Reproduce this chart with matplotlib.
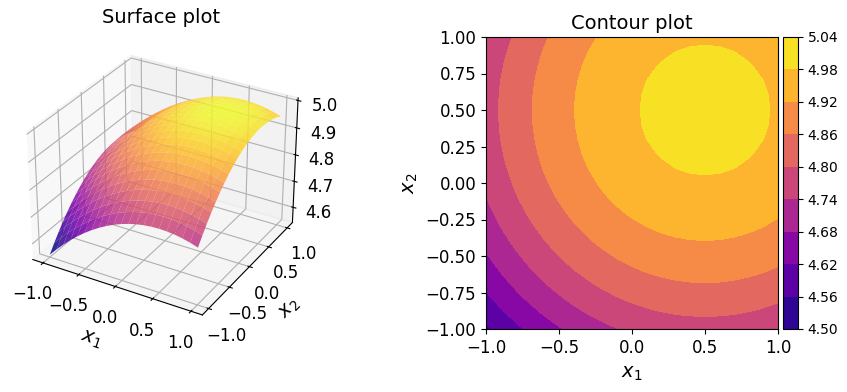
import numpy as np
import matplotlib
matplotlib.use('Agg')
import matplotlib.pyplot as plt

x1_values = [-1.0, -0.9, -0.8, -0.7, -0.6, -0.5, -0.4, -0.3, -0.2, -0.1, 0.0,
             0.1, 0.2, 0.3, 0.4, 0.5, 0.6, 0.7, 0.8, 0.9, 1.0]
x2_values = [-1.0, -0.9, -0.8, -0.7, -0.6, -0.5, -0.4, -0.3, -0.2, -0.1, 0.0,
             0.1, 0.2, 0.3, 0.4, 0.5, 0.6, 0.7, 0.8, 0.9, 1.0]

# estimated from the contour bands, one row per x2
z_values = [
    [4.550, 4.579, 4.606, 4.631, 4.654, 4.675, 4.694, 4.711, 4.726, 4.739, 4.750, 4.759, 4.766, 4.771, 4.774, 4.775, 4.774, 4.771, 4.766, 4.759, 4.750],
    [4.579, 4.608, 4.635, 4.660, 4.683, 4.704, 4.723, 4.740, 4.755, 4.768, 4.779, 4.788, 4.795, 4.800, 4.803, 4.804, 4.803, 4.800, 4.795, 4.788, 4.779],
    [4.606, 4.635, 4.662, 4.687, 4.710, 4.731, 4.750, 4.767, 4.782, 4.795, 4.806, 4.815, 4.822, 4.827, 4.830, 4.831, 4.830, 4.827, 4.822, 4.815, 4.806],
    [4.631, 4.660, 4.687, 4.712, 4.735, 4.756, 4.775, 4.792, 4.807, 4.820, 4.831, 4.840, 4.847, 4.852, 4.855, 4.856, 4.855, 4.852, 4.847, 4.840, 4.831],
    [4.654, 4.683, 4.710, 4.735, 4.758, 4.779, 4.798, 4.815, 4.830, 4.843, 4.854, 4.863, 4.870, 4.875, 4.878, 4.879, 4.878, 4.875, 4.870, 4.863, 4.854],
    [4.675, 4.704, 4.731, 4.756, 4.779, 4.800, 4.819, 4.836, 4.851, 4.864, 4.875, 4.884, 4.891, 4.896, 4.899, 4.900, 4.899, 4.896, 4.891, 4.884, 4.875],
    [4.694, 4.723, 4.750, 4.775, 4.798, 4.819, 4.838, 4.855, 4.870, 4.883, 4.894, 4.903, 4.910, 4.915, 4.918, 4.919, 4.918, 4.915, 4.910, 4.903, 4.894],
    [4.711, 4.740, 4.767, 4.792, 4.815, 4.836, 4.855, 4.872, 4.887, 4.900, 4.911, 4.920, 4.927, 4.932, 4.935, 4.936, 4.935, 4.932, 4.927, 4.920, 4.911],
    [4.726, 4.755, 4.782, 4.807, 4.830, 4.851, 4.870, 4.887, 4.902, 4.915, 4.926, 4.935, 4.942, 4.947, 4.950, 4.951, 4.950, 4.947, 4.942, 4.935, 4.926],
    [4.739, 4.768, 4.795, 4.820, 4.843, 4.864, 4.883, 4.900, 4.915, 4.928, 4.939, 4.948, 4.955, 4.960, 4.963, 4.964, 4.963, 4.960, 4.955, 4.948, 4.939],
    [4.750, 4.779, 4.806, 4.831, 4.854, 4.875, 4.894, 4.911, 4.926, 4.939, 4.950, 4.959, 4.966, 4.971, 4.974, 4.975, 4.974, 4.971, 4.966, 4.959, 4.950],
    [4.759, 4.788, 4.815, 4.840, 4.863, 4.884, 4.903, 4.920, 4.935, 4.948, 4.959, 4.968, 4.975, 4.980, 4.983, 4.984, 4.983, 4.980, 4.975, 4.968, 4.959],
    [4.766, 4.795, 4.822, 4.847, 4.870, 4.891, 4.910, 4.927, 4.942, 4.955, 4.966, 4.975, 4.982, 4.987, 4.990, 4.991, 4.990, 4.987, 4.982, 4.975, 4.966],
    [4.771, 4.800, 4.827, 4.852, 4.875, 4.896, 4.915, 4.932, 4.947, 4.960, 4.971, 4.980, 4.987, 4.992, 4.995, 4.996, 4.995, 4.992, 4.987, 4.980, 4.971],
    [4.774, 4.803, 4.830, 4.855, 4.878, 4.899, 4.918, 4.935, 4.950, 4.963, 4.974, 4.983, 4.990, 4.995, 4.998, 4.999, 4.998, 4.995, 4.990, 4.983, 4.974],
    [4.775, 4.804, 4.831, 4.856, 4.879, 4.900, 4.919, 4.936, 4.951, 4.964, 4.975, 4.984, 4.991, 4.996, 4.999, 5.000, 4.999, 4.996, 4.991, 4.984, 4.975],
    [4.774, 4.803, 4.830, 4.855, 4.878, 4.899, 4.918, 4.935, 4.950, 4.963, 4.974, 4.983, 4.990, 4.995, 4.998, 4.999, 4.998, 4.995, 4.990, 4.983, 4.974],
    [4.771, 4.800, 4.827, 4.852, 4.875, 4.896, 4.915, 4.932, 4.947, 4.960, 4.971, 4.980, 4.987, 4.992, 4.995, 4.996, 4.995, 4.992, 4.987, 4.980, 4.971],
    [4.766, 4.795, 4.822, 4.847, 4.870, 4.891, 4.910, 4.927, 4.942, 4.955, 4.966, 4.975, 4.982, 4.987, 4.990, 4.991, 4.990, 4.987, 4.982, 4.975, 4.966],
    [4.759, 4.788, 4.815, 4.840, 4.863, 4.884, 4.903, 4.920, 4.935, 4.948, 4.959, 4.968, 4.975, 4.980, 4.983, 4.984, 4.983, 4.980, 4.975, 4.968, 4.959],
    [4.750, 4.779, 4.806, 4.831, 4.854, 4.875, 4.894, 4.911, 4.926, 4.939, 4.950, 4.959, 4.966, 4.971, 4.974, 4.975, 4.974, 4.971, 4.966, 4.959, 4.950],
]

contour_levels = [4.50, 4.56, 4.62, 4.68, 4.74, 4.80, 4.86, 4.92, 4.98, 5.04]
z_ticks = [4.6, 4.7, 4.8, 4.9, 5.0]
xy_ticks = [-1.0, -0.5, 0.0, 0.5, 1.0]
contour_ticks = [-1.0, -0.75, -0.5, -0.25, 0.0, 0.25, 0.5, 0.75, 1.0]

X1, X2 = np.meshgrid(x1_values, x2_values)
Z = np.array(z_values)

fig = plt.figure(figsize=(8.47, 3.92), dpi=100)

# Surface plot
ax1 = fig.add_axes([0.0, 0.148, 0.38, 0.77], projection='3d')
ax1.plot_surface(X1, X2, Z, cmap='plasma', alpha=0.85, rstride=1, cstride=1)
ax1.set_title('Surface plot', fontsize=14, y=1.09)
ax1.set_xlabel('$x_1$', fontsize=14, labelpad=6)
ax1.set_ylabel('$x_2$', fontsize=14, labelpad=6)
ax1.set_xticks(xy_ticks)
ax1.set_yticks(xy_ticks)
ax1.set_zticks(z_ticks)
ax1.tick_params(labelsize=12)

# Contour plot
ax2 = fig.add_axes([486 / 847, 1 - 329 / 392, 292 / 847, 292 / 392])
cs = ax2.contourf(X1, X2, Z, levels=contour_levels, cmap='plasma')
ax2.set_title('Contour plot', fontsize=14)
ax2.set_xlabel('$x_1$', fontsize=14, labelpad=5)
ax2.set_ylabel('$x_2$', fontsize=14)
ax2.set_xticks(xy_ticks)
ax2.set_yticks(contour_ticks)
ax2.tick_params(labelsize=12)

cax = fig.add_axes([783 / 847, 1 - 329 / 392, 15 / 847, 292 / 392])
cbar = fig.colorbar(cs, cax=cax, ticks=contour_levels)
cbar.ax.set_yticklabels(['%.2f' % v for v in contour_levels])
cbar.ax.tick_params(labelsize=10)

plt.savefig('out.png', dpi=100)
